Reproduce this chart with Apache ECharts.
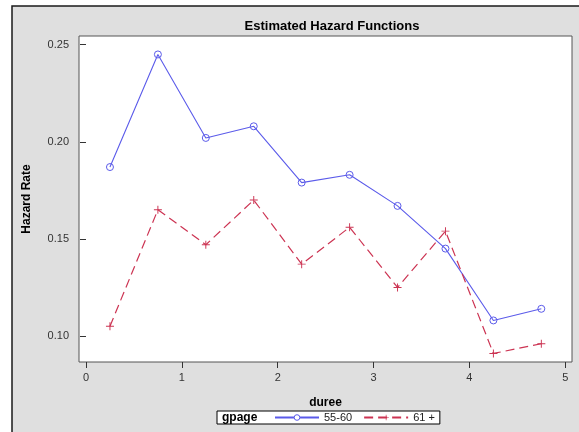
<!DOCTYPE html>
<html>
<head>
<meta charset="utf-8">
<script src="https://cdn.jsdelivr.net/npm/echarts@6/dist/echarts.min.js"></script>
<style>
  html, body { margin: 0; padding: 0; background: #ffffff; }
  #chart { width: 579px; height: 432px; }
</style>
</head>
<body>
<div id="chart"></div>
<script>
// Interval midpoints of duree
const duree = [0.25, 0.75, 1.25, 1.75, 2.25, 2.75, 3.25, 3.75, 4.25, 4.75];
// Estimated hazard rates per age group
const hazard5560 = [0.187, 0.245, 0.202, 0.208, 0.179, 0.183, 0.167, 0.145, 0.108, 0.114];
const hazard61 = [0.105, 0.165, 0.147, 0.170, 0.137, 0.156, 0.125, 0.154, 0.091, 0.096];
const groupNames = ['55-60', '61 +'];
const xTicks = [0, 1, 2, 3, 4, 5];
const yTicks = [0.10, 0.15, 0.20, 0.25];

const FONT = '"Liberation Sans", Arial, sans-serif';
const BLUE = '#5b5bea';
const RED = '#cc3352';
const plusPath = 'path://M4.4,0H5.6V4.4H10V5.6H5.6V10H4.4V5.6H0V4.4H4.4Z';

const chart = echarts.init(document.getElementById('chart'), null, { renderer: 'canvas' });

chart.setOption({
  backgroundColor: '#ffffff',
  animation: false,
  textStyle: { fontFamily: FONT },
  title: {
    text: 'Estimated Hazard Functions',
    left: 327, top: 15, textAlign: 'center',
    textStyle: { fontFamily: FONT, fontSize: 13, fontWeight: 'bold', color: '#000' }
  },
  graphic: [
    {
      type: 'rect', z: -10, silent: true,
      shape: { x: 12, y: 6, width: 600, height: 460 },
      style: { fill: '#dfdfdf', stroke: '#1a1a1a', lineWidth: 1.5 }
    },
    {
      type: 'text', z: 10, left: 222, top: 412,
      style: { text: 'gpage', font: 'bold 12px ' + FONT, fill: '#000' }
    }
  ],
  grid: {
    left: 79, right: 7, top: 36, bottom: 70,
    show: true, backgroundColor: '#ffffff', borderColor: '#555', borderWidth: 1
  },
  legend: {
    left: 217, top: 411,
    padding: [1, 5, 1, 57],
    itemGap: 11, itemWidth: 44, itemHeight: 7,
    borderColor: '#000', borderWidth: 1, backgroundColor: '#ffffff',
    textStyle: { fontFamily: FONT, fontSize: 11, color: '#222', padding: [0, 0, 0, 0] },
    data: [
      { name: groupNames[0], itemStyle: { color: '#ffffff', borderColor: BLUE, borderWidth: 1 } },
      { name: groupNames[1] }
    ]
  },
  xAxis: {
    type: 'value', min: -0.073, max: 5.07,
    name: 'duree', nameLocation: 'middle', nameGap: 35,
    nameTextStyle: { fontFamily: FONT, fontSize: 12, fontWeight: 'bold', color: '#000' },
    axisLine: { show: false },
    splitLine: { show: false },
    axisTick: { show: true, length: 6, lineStyle: { color: '#333' }, customValues: xTicks },
    axisLabel: { customValues: xTicks, margin: 10, fontSize: 11, color: '#333', fontFamily: FONT }
  },
  yAxis: {
    type: 'value', min: 0.0866, max: 0.2545,
    name: 'Hazard Rate', nameLocation: 'middle', nameGap: 46,
    nameTextStyle: { fontFamily: FONT, fontSize: 12, fontWeight: 'bold', color: '#000' },
    axisLine: { show: false },
    splitLine: { show: false },
    axisTick: { show: true, length: 6, lineStyle: { color: '#333' }, customValues: yTicks },
    axisLabel: {
      customValues: yTicks, margin: 10, fontSize: 11, color: '#333', fontFamily: FONT,
      formatter: v => v.toFixed(2)
    }
  },
  series: [
    {
      name: groupNames[0], type: 'line',
      data: duree.map((d, i) => [d, hazard5560[i]]),
      symbol: 'circle', symbolSize: 7,
      lineStyle: { color: BLUE, width: 1.1 },
      itemStyle: { color: 'rgba(255,255,255,0)', borderColor: BLUE, borderWidth: 1 }
    },
    {
      name: groupNames[1], type: 'line',
      data: duree.map((d, i) => [d, hazard61[i]]),
      symbol: plusPath, symbolSize: 8,
      lineStyle: { color: RED, width: 1.2, type: [9, 5] },
      itemStyle: { color: RED }
    }
  ]
});
</script>
</body>
</html>
